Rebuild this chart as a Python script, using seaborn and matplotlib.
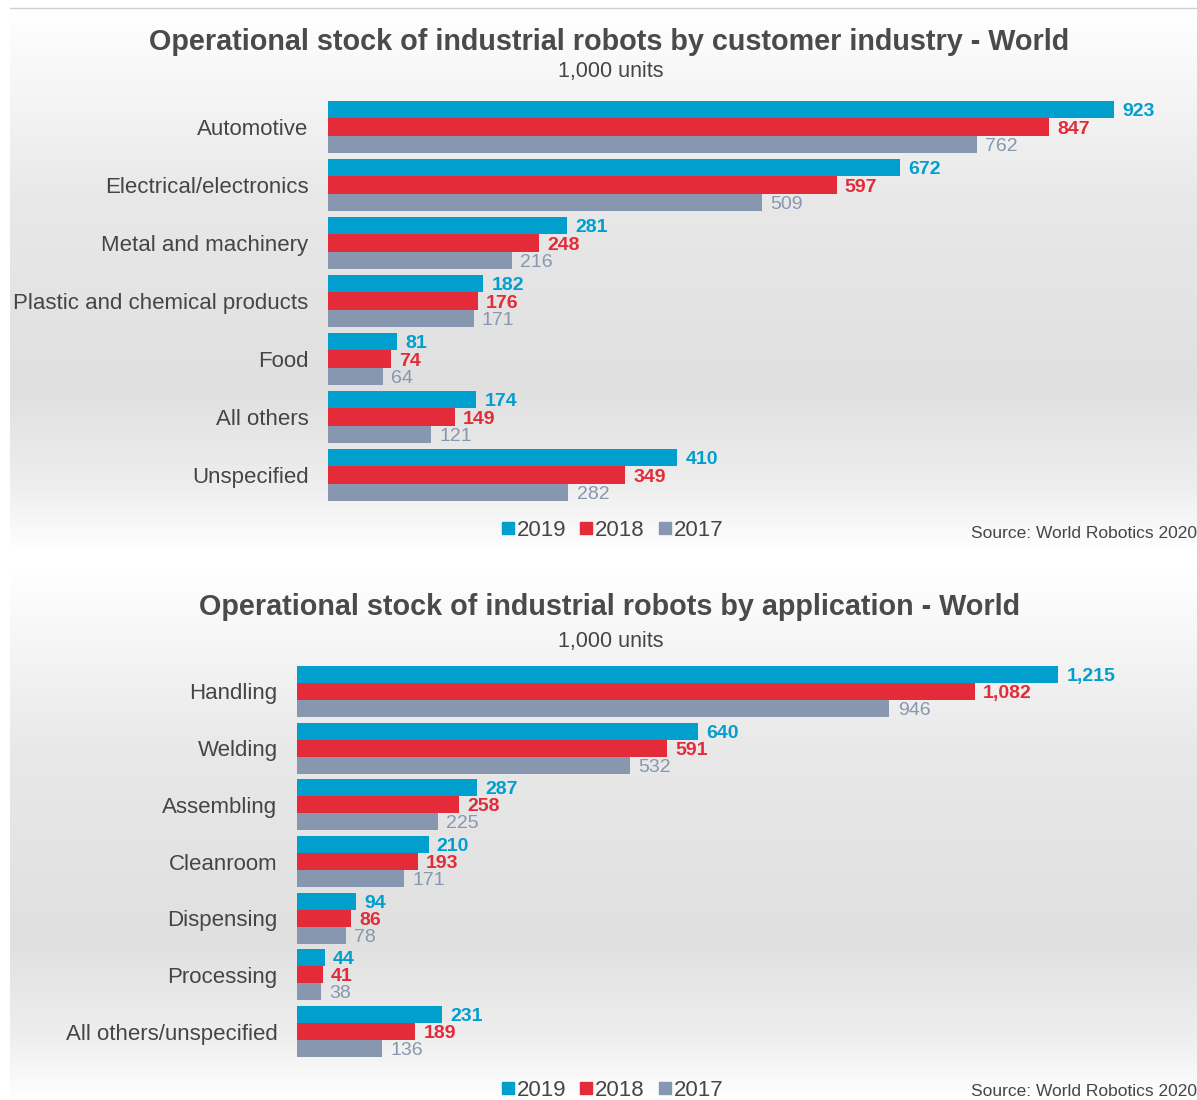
import numpy as np
import pandas as pd
import matplotlib.pyplot as plt
import seaborn as sns
from matplotlib.lines import Line2D

#                               DATA
industries = ["Automotive", "Electrical/electronics", "Metal and machinery",
              "Plastic and chemical products", "Food", "All others", "Unspecified"]
ind_2019 = [923, 672, 281, 182, 81, 174, 410]
ind_2018 = [847, 597, 248, 176, 74, 149, 349]
ind_2017 = [762, 509, 216, 171, 64, 121, 282]

applications = ["Handling", "Welding", "Assembling", "Cleanroom", "Dispensing",
                "Processing", "All others/unspecified"]
app_2019 = [1215, 640, 287, 210, 94, 44, 231]
app_2018 = [1082, 591, 258, 193, 86, 41, 189]
app_2017 = [946, 532, 225, 171, 78, 38, 136]

years = ["2019", "2018", "2017"]
colors = ["#009fce", "#e32b3a", "#8797b0"]
text_col = "#454545"

sns.set_style("white")
plt.rcParams['font.family'] = ['Liberation Sans', 'DejaVu Sans']

fig = plt.figure(figsize=(11.97, 11), dpi=100)
fig.patch.set_facecolor("white")

W, H = 1197, 1100


def px_axes(x0, y0, x1, y1, **kw):
    # axes from pixel box (top-left origin)
    return fig.add_axes([x0 / W, 1 - y1 / H, (x1 - x0) / W, (y1 - y0) / H], **kw)


def background(y0, y1):
    bg = px_axes(10, y0, W, y1, zorder=-5)
    t = np.linspace(0, 1, 300)
    prof = np.interp(t, [0, 0.08, 0.35, 0.7, 0.88, 1], [255, 250, 232, 224, 238, 255])
    img = np.repeat(prof[:, None], 4, axis=1) / 255
    bg.imshow(np.dstack([img, img, img]), aspect="auto", extent=[0, 1, 0, 1])
    bg.set_axis_off()


def long_df(cats, s19, s18, s17):
    rows = []
    for yr, vals in zip(years, [s19, s18, s17]):
        for c, v in zip(cats, vals):
            rows.append({"cat": c, "year": yr, "value": v})
    return pd.DataFrame(rows)


def draw_panel(ax, df, cats, xmax):
    sns.barplot(data=df, y="cat", x="value", hue="year", order=cats,
                hue_order=years, palette=colors, orient="h", width=0.9,
                linewidth=0, saturation=1, ax=ax, legend=False)
    for cont, col, w in zip(ax.containers, colors, ["bold", "bold", "normal"]):
        texts = ax.bar_label(cont, labels=[f"{v:,.0f}" for v in cont.datavalues],
                             padding=6, color=col, fontsize=14, fontweight=w)
        for t in texts:
            t.set_verticalalignment("center_baseline")
    ax.set_xlim(0, xmax)
    ax.set_ylim(len(cats) - 0.5, -0.5)
    ax.set_xticks([])
    ax.set_xlabel("")
    ax.set_ylabel("")
    ax.tick_params(axis="y", length=0, pad=14, labelsize=16, labelcolor=text_col)
    ax.patch.set_alpha(0)
    sns.despine(ax=ax, left=True, bottom=True)


def legend_at(y):
    handles = [Line2D([], [], marker="s", color=c, linestyle="", markersize=8) for c in colors]
    fig.legend(handles, years, loc="center", bbox_to_anchor=(612 / W, y), ncol=3,
               frameon=False, fontsize=16, handlelength=0.6, handletextpad=0.1,
               columnspacing=0.6, labelcolor=text_col)


# backgrounds and top rule
background(10, 552)
background(566, 1100)
fig.add_artist(Line2D([10 / W, 1], [1 - 8 / H, 1 - 8 / H], color="#d0d0d0", lw=1))

# top panel: customer industry
ax1 = px_axes(328, 98, 1190, 504)
draw_panel(ax1, long_df(industries, ind_2019, ind_2018, ind_2017), industries, 1012)
fig.text(609 / W, 1 - 42 / H, "Operational stock of industrial robots by customer industry - World",
         ha="center", va="center", fontsize=20.7, fontweight="bold", color="#4a4a4a")
fig.text(611 / W, 1 - 72 / H, "1,000 units", ha="center", va="center", fontsize=15.5, color=text_col)
legend_at(1 - 530 / H)
fig.text(1, 1 - 533 / H, "Source: World Robotics 2020", ha="right", va="center",
         fontsize=12.5, color=text_col)

# bottom panel: application
ax2 = px_axes(297, 663, 1192, 1060)
draw_panel(ax2, long_df(applications, app_2019, app_2018, app_2017), applications, 1429)
fig.text(610 / W, 1 - 607 / H, "Operational stock of industrial robots by application - World",
         ha="center", va="center", fontsize=20.7, fontweight="bold", color="#4a4a4a")
fig.text(611 / W, 1 - 642 / H, "1,000 units", ha="center", va="center", fontsize=15.5, color=text_col)
legend_at(1 - 1090 / H)
fig.text(1, 1 - 1092 / H, "Source: World Robotics 2020", ha="right", va="center",
         fontsize=12.5, color=text_col)

fig.savefig("out.png", dpi=100)
